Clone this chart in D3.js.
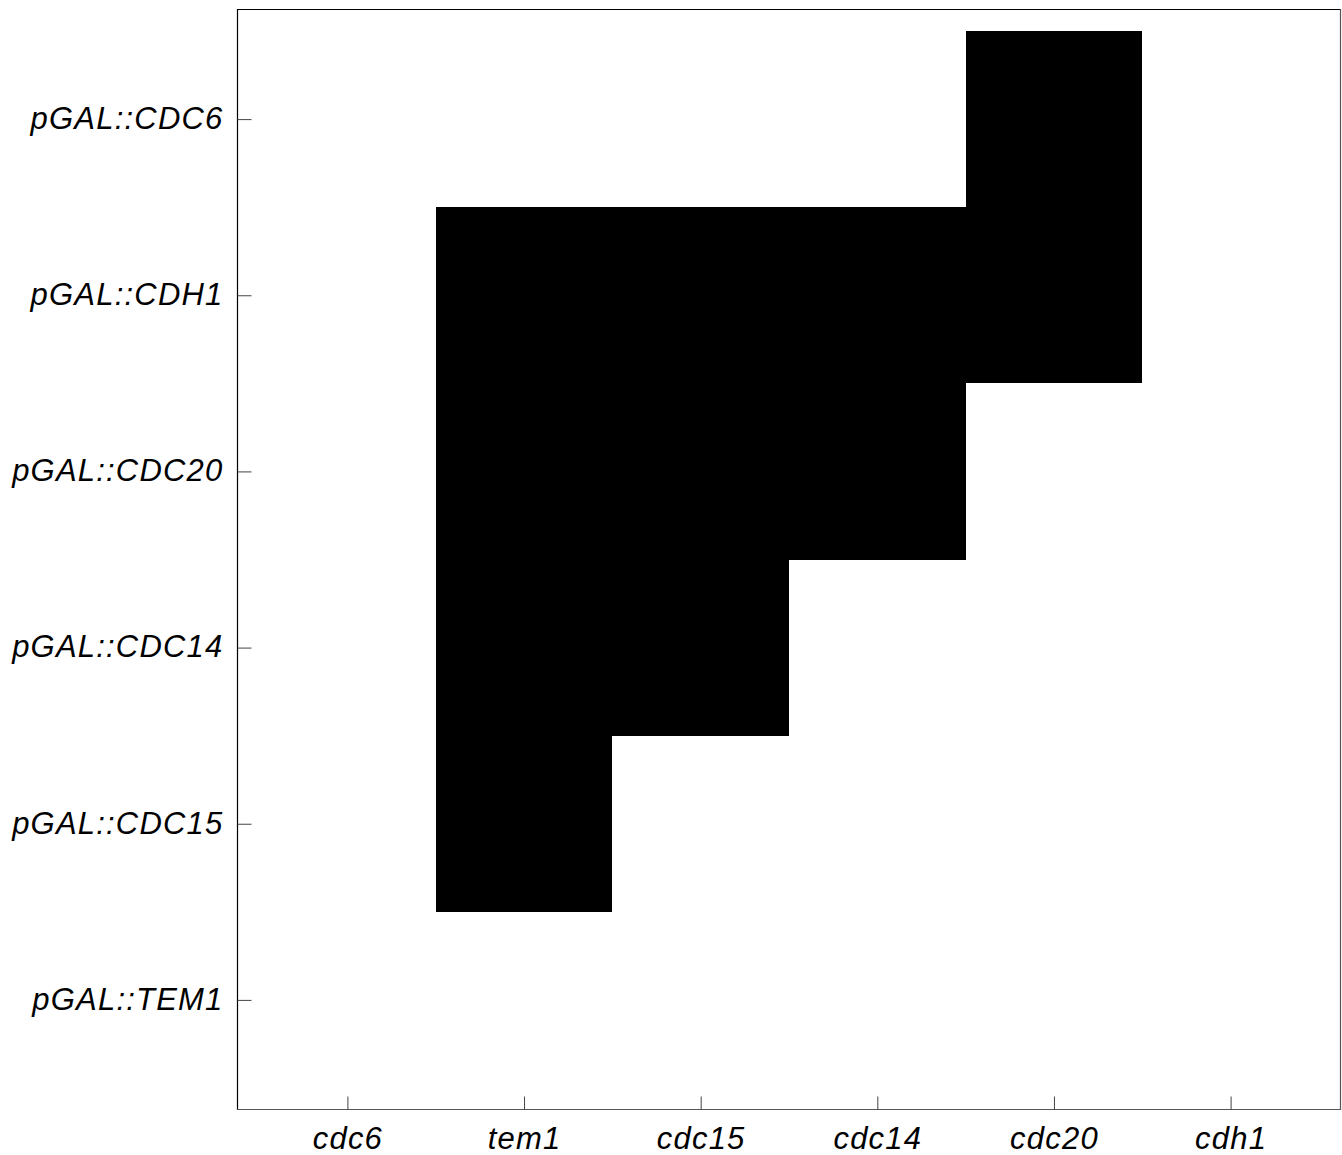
<!DOCTYPE html>
<html>
<head>
<meta charset="utf-8">
<script src="https://cdn.jsdelivr.net/npm/d3@7"></script>
<style>
  html, body { margin: 0; padding: 0; background: #fff; }
  svg { display: block; }
  text { font-family: "Liberation Sans", Arial, sans-serif; font-style: italic; }
</style>
</head>
<body>
<svg id="chart" width="1342" height="1155"></svg>
<script>
// Deletion backgrounds (columns) and overexpression strains (rows)
const mutants = ["cdc6", "tem1", "cdc15", "cdc14", "cdc20", "cdh1"];
const strains = ["pGAL::CDC6", "pGAL::CDH1", "pGAL::CDC20", "pGAL::CDC14", "pGAL::CDC15", "pGAL::TEM1"];

// 1 = rescue (black cell), 0 = no rescue; one row per strain, in mutant order
const rowCDC6  = [0, 0, 0, 0, 1, 0];
const rowCDH1  = [0, 1, 1, 1, 1, 0];
const rowCDC20 = [0, 1, 1, 1, 0, 0];
const rowCDC14 = [0, 1, 1, 0, 0, 0];
const rowCDC15 = [0, 1, 0, 0, 0, 0];
const rowTEM1  = [0, 0, 0, 0, 0, 0];
const rows = [rowCDC6, rowCDH1, rowCDC20, rowCDC14, rowCDC15, rowTEM1];

const cells = [];
rows.forEach((r, i) => r.forEach((v, j) => cells.push({ strain: strains[i], mutant: mutants[j], i, j, v })));

const plotL = 237, plotR = 1341, plotT = 9, plotB = 1110;
const svg = d3.select("#chart");

const x = d3.scaleLinear().domain([-0.625, mutants.length - 1 + 0.625]).range([plotL, plotR]);
const y = d3.scaleLinear().domain([-0.625, strains.length - 1 + 0.625]).range([plotT, plotB]);

// cells
svg.append("g").attr("shape-rendering", "crispEdges").selectAll("rect")
  .data(cells.filter(d => d.v === 1))
  .join("rect")
  .attr("x", d => Math.round(x(d.j - 0.5)))
  .attr("y", d => Math.round(y(d.i - 0.5)))
  .attr("width", d => Math.round(x(d.j + 0.5)) - Math.round(x(d.j - 0.5)))
  .attr("height", d => Math.round(y(d.i + 0.5)) - Math.round(y(d.i - 0.5)))
  .attr("fill", "#000");

// frame
svg.append("line").attr("x1", plotL).attr("x2", plotR).attr("y1", plotT + 0.5).attr("y2", plotT + 0.5).attr("stroke", "#000").attr("stroke-width", 1.2);
svg.append("line").attr("x1", plotL + 0.5).attr("x2", plotL + 0.5).attr("y1", plotT).attr("y2", plotB).attr("stroke", "#000").attr("stroke-width", 1.2);
svg.append("line").attr("x1", plotR - 0.5).attr("x2", plotR - 0.5).attr("y1", plotT).attr("y2", plotB).attr("stroke", "#555").attr("stroke-width", 1.2);
svg.append("line").attr("x1", plotL).attr("x2", plotR).attr("y1", plotB - 0.5).attr("y2", plotB - 0.5).attr("stroke", "#555").attr("stroke-width", 1.2);

const labelStyle = sel => sel
  .attr("font-size", 31).attr("fill", "#000")
  .style("font-family", "'Liberation Sans', Arial, sans-serif")
  .style("font-style", "italic")
  .style("letter-spacing", "1.2px");

// axes with inward ticks
const xAxis = d3.axisBottom(x)
  .tickValues(d3.range(mutants.length))
  .tickFormat(i => mutants[i])
  .tickSizeInner(-13).tickSizeOuter(0).tickPadding(17);
const gx = svg.append("g").attr("transform", `translate(0,${plotB - 0.5})`).call(xAxis);
gx.select(".domain").remove();
gx.selectAll(".tick line").attr("stroke", "#444");
gx.selectAll(".tick text").call(labelStyle);

const yAxis = d3.axisLeft(y)
  .tickValues(d3.range(strains.length))
  .tickFormat(i => strains[i])
  .tickSizeInner(-14).tickSizeOuter(0).tickPadding(14);
const gy = svg.append("g").attr("transform", `translate(${plotL + 0.5},0)`).call(yAxis);
gy.select(".domain").remove();
gy.selectAll(".tick line").attr("stroke", "#444");
gy.selectAll(".tick text").call(labelStyle).attr("dy", "0.3em");
</script>
</body>
</html>
